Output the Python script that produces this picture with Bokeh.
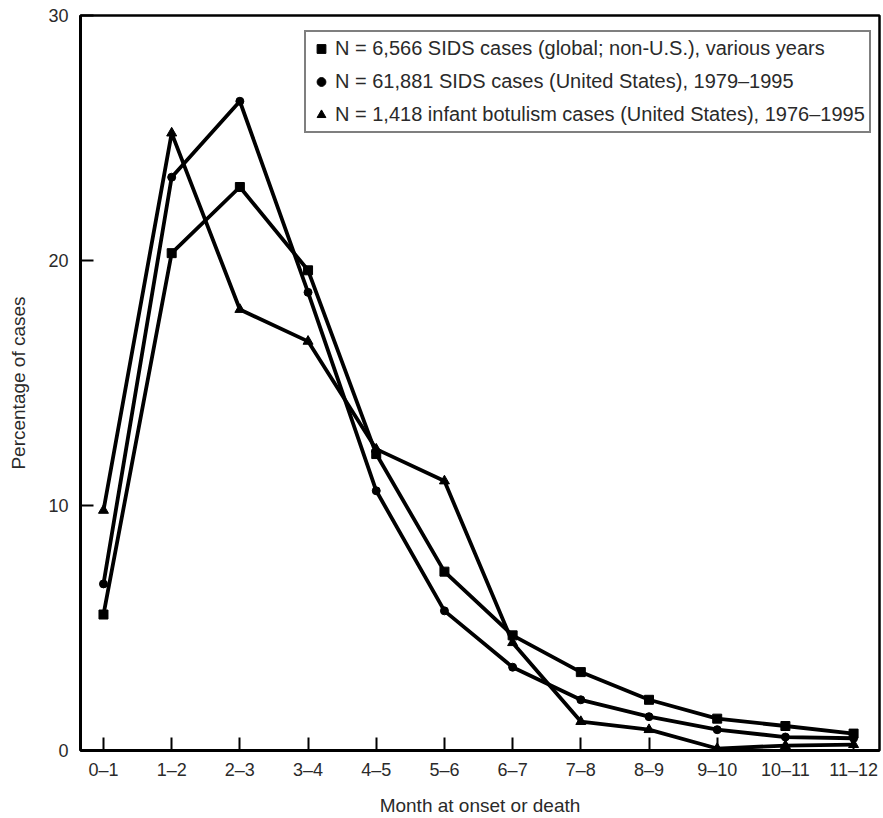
from bokeh.plotting import figure
from bokeh.models import Legend, LegendItem, FixedTicker
from bokeh.embed import file_html
from bokeh.resources import INLINE

months = ["0–1", "1–2", "2–3", "3–4", "4–5", "5–6", "6–7", "7–8", "8–9", "9–10", "10–11", "11–12"]
sids_global = [5.55, 20.3, 23.0, 19.6, 12.1, 7.3, 4.7, 3.2, 2.07, 1.3, 1.0, 0.69]
sids_us = [6.8, 23.4, 26.5, 18.7, 10.6, 5.7, 3.4, 2.07, 1.38, 0.85, 0.55, 0.5]
botulism = [9.8, 25.2, 18.0, 16.7, 12.3, 11.0, 4.4, 1.18, 0.85, 0.08, 0.2, 0.24]

labels = [
    "N = 6,566 SIDS cases (global; non-U.S.), various years",
    "N = 61,881 SIDS cases (United States), 1979–1995",
    "N = 1,418 infant botulism cases (United States), 1976–1995",
]

FONT = "Liberation Sans"
TXT = "#2a2a2a"

xs = list(range(len(months)))

p = figure(width=883, height=818, x_range=(-0.337, 11.38), y_range=(0, 30),
           output_backend="svg", toolbar_location=None,
           min_border_left=80, min_border_top=15, min_border_right=4, min_border_bottom=64)

p.xgrid.visible = False
p.ygrid.visible = False
p.outline_line_color = "black"
p.outline_line_width = 2.5
p.background_fill_color = "white"
p.border_fill_color = "white"

lw = 3.8
p.line(xs, sids_global, line_color="black", line_width=lw)
p.line(xs, sids_us, line_color="black", line_width=lw)
p.line(xs, botulism, line_color="black", line_width=lw)
r1 = p.scatter(xs, sids_global, marker="square", size=9, color="black")
r2 = p.scatter(xs, sids_us, marker="circle", size=8, color="black")
r3 = p.scatter(xs, botulism, marker="triangle", size=10, color="black")

for ax in (p.xaxis[0], p.yaxis[0]):
    ax.axis_line_width = 3
    ax.axis_line_color = "black"
    ax.major_tick_in = 13
    ax.major_tick_out = 0
    ax.major_tick_line_width = 2
    ax.major_tick_line_color = "black"
    ax.minor_tick_line_color = None
    ax.major_label_text_font = FONT
    ax.major_label_text_font_size = "18px"
    ax.major_label_text_color = TXT
    ax.axis_label_text_font = FONT
    ax.axis_label_text_font_size = "19px"
    ax.axis_label_text_font_style = "normal"
    ax.axis_label_text_color = TXT

p.xaxis.ticker = FixedTicker(ticks=xs)
p.xaxis.major_label_overrides = {i: m for i, m in enumerate(months)}
p.xaxis.axis_label = "Month at onset or death"
p.xaxis.major_label_standoff = 9
p.xaxis.axis_label_standoff = 12

p.yaxis.ticker = FixedTicker(ticks=[0, 10, 20, 30])
p.yaxis.axis_label = "Percentage of cases"
p.yaxis.major_label_standoff = 12
p.yaxis.axis_label_standoff = 16

legend = Legend(items=[LegendItem(label=labels[0], renderers=[r1]),
                       LegendItem(label=labels[1], renderers=[r2]),
                       LegendItem(label=labels[2], renderers=[r3])],
                location=(224, 617))
legend.label_text_font = FONT
legend.label_text_font_size = "20px"
legend.label_text_color = TXT
legend.border_line_color = "black"
legend.border_line_width = 2
legend.padding = 4
legend.spacing = 8
legend.glyph_height = 25
legend.glyph_width = 22
legend.label_height = 25
legend.label_standoff = 3
legend.background_fill_alpha = 1.0
p.add_layout(legend)

open("out.html", "w").write(file_html(p, INLINE))
